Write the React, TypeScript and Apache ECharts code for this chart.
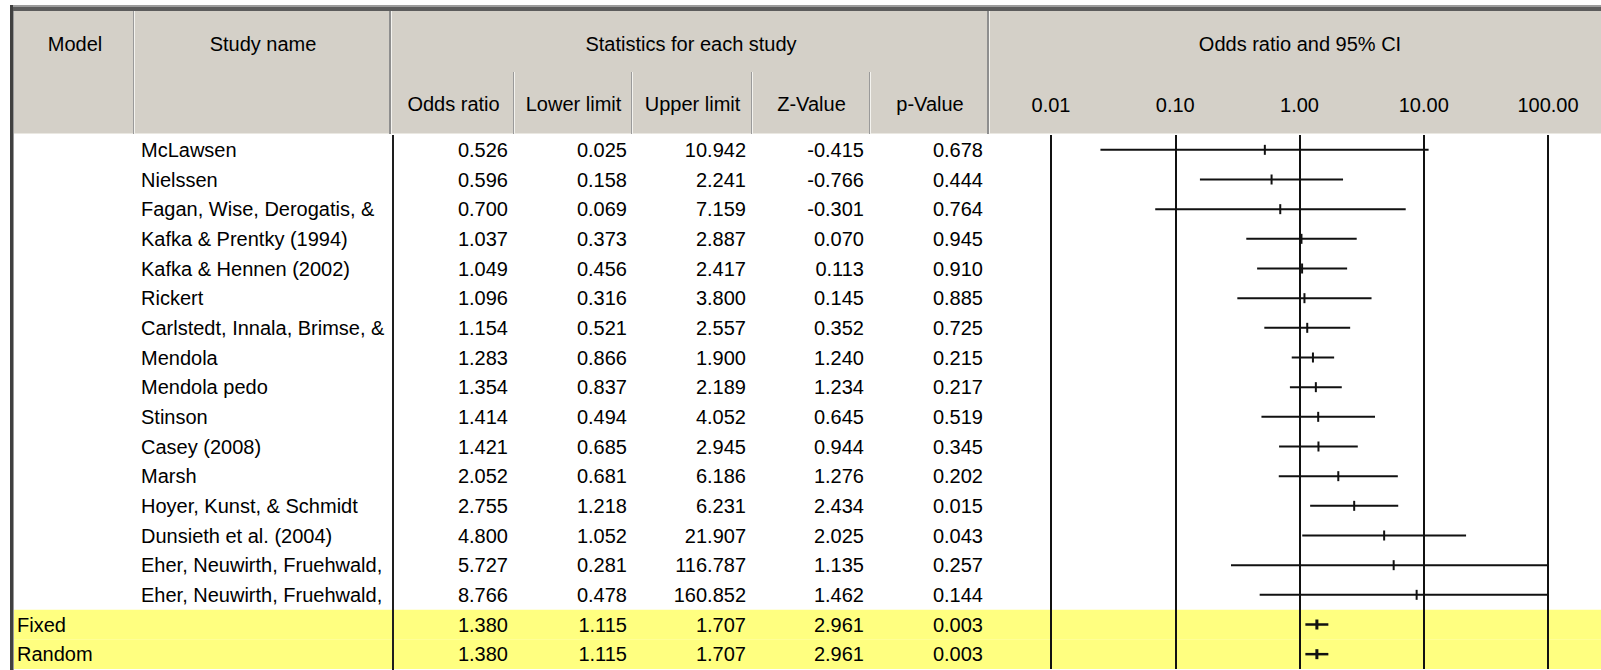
import React, { useEffect, useRef } from "react";
import * as echarts from "echarts";

// ---------------- DATA ----------------
const studyNames = [
  "McLawsen",
  "Nielssen",
  "Fagan, Wise, Derogatis, &",
  "Kafka & Prentky (1994)",
  "Kafka & Hennen (2002)",
  "Rickert",
  "Carlstedt, Innala, Brimse, &",
  "Mendola",
  "Mendola pedo",
  "Stinson",
  "Casey (2008)",
  "Marsh",
  "Hoyer, Kunst, & Schmidt",
  "Dunsieth et al. (2004)",
  "Eher, Neuwirth, Fruehwald,",
  "Eher, Neuwirth, Fruehwald,",
];
const oddsRatio = [0.526, 0.596, 0.7, 1.037, 1.049, 1.096, 1.154, 1.283, 1.354, 1.414, 1.421, 2.052, 2.755, 4.8, 5.727, 8.766];
const lowerLimit = [0.025, 0.158, 0.069, 0.373, 0.456, 0.316, 0.521, 0.866, 0.837, 0.494, 0.685, 0.681, 1.218, 1.052, 0.281, 0.478];
const upperLimit = [10.942, 2.241, 7.159, 2.887, 2.417, 3.8, 2.557, 1.9, 2.189, 4.052, 2.945, 6.186, 6.231, 21.907, 116.787, 160.852];
const zValue = [-0.415, -0.766, -0.301, 0.07, 0.113, 0.145, 0.352, 1.24, 1.234, 0.645, 0.944, 1.276, 2.434, 2.025, 1.135, 1.462];
const pValue = [0.678, 0.444, 0.764, 0.945, 0.91, 0.885, 0.725, 0.215, 0.217, 0.519, 0.345, 0.202, 0.015, 0.043, 0.257, 0.144];

const summaryModels = ["Fixed", "Random"];
const summaryOddsRatio = [1.38, 1.38];
const summaryLower = [1.115, 1.115];
const summaryUpper = [1.707, 1.707];
const summaryZ = [2.961, 2.961];
const summaryP = [0.003, 0.003];

const headerTitles = ["Model", "Study name", "Statistics for each study", "Odds ratio and 95% CI"];
const statColumns = ["Odds ratio", "Lower limit", "Upper limit", "Z-Value", "p-Value"];
const axisMin = 0.01;
const axisMax = 100;

// ---------------- LAYOUT ----------------
const W = 1601;
const H = 670;
const bodyTop = 135;
const bodyHeight = 534;
const plotLeft = 1051;
const plotWidth = 497;
const modelX = 17;
const nameX = 141;
const numRight = [508, 627, 746, 864, 983];
const statDividers = [513, 631, 751, 869];
const FONT = '"Liberation Sans", Arial, sans-serif';
const FS = 20;

type Row = {
  model: string;
  name: string;
  vals: number[];
  or: number;
  lo: number;
  hi: number;
  summary: boolean;
};

const rows: Row[] = [
  ...studyNames.map((n, i) => ({
    model: "",
    name: n,
    vals: [oddsRatio[i], lowerLimit[i], upperLimit[i], zValue[i], pValue[i]],
    or: oddsRatio[i],
    lo: lowerLimit[i],
    hi: upperLimit[i],
    summary: false,
  })),
  ...summaryModels.map((m, i) => ({
    model: m,
    name: "",
    vals: [summaryOddsRatio[i], summaryLower[i], summaryUpper[i], summaryZ[i], summaryP[i]],
    or: summaryOddsRatio[i],
    lo: summaryLower[i],
    hi: summaryUpper[i],
    summary: true,
  })),
];
const rowCats = rows.map((_, i) => String(i));

function txt(text: string, x: number, y: number, align: string) {
  return {
    type: "text",
    x,
    y,
    z: 20,
    style: {
      text,
      fill: "#000",
      font: `${FS}px ${FONT}`,
      fontSize: FS,
      fontFamily: FONT,
      align,
      verticalAlign: "middle",
      textAlign: align,
      textVerticalAlign: "middle",
    },
  };
}

function rect(x: number, y: number, w: number, h: number, fill: string, z = 5) {
  return { type: "rect", z, shape: { x, y, width: w, height: h }, style: { fill } };
}

function buildGraphic() {
  const els: any[] = [];
  // header background
  els.push(rect(14, 11, W - 14, 123, "#D4D0C8", -10));
  els.push(rect(14, 133, W - 14, 1, "#EAE8E2", -9));
  // top border
  els.push(rect(10, 5, W - 10, 2, "#9C9C9C", 6));
  els.push(rect(10, 7, W - 10, 4, "#5C5C5C", 6));
  // left border
  els.push(rect(10, 5, 3, H - 5, "#404040", 6));
  els.push(rect(13, 11, 1, H - 11, "#9A9A9A", 6));
  // header full-height dividers
  els.push(rect(133, 11, 1, 123, "#9A9A9A", 6));
  els.push(rect(134, 11, 1, 123, "#F4F3EF", 6));
  els.push(rect(389, 11, 2, 123, "#8E8E8E", 6));
  els.push(rect(391, 11, 1, 123, "#F4F3EF", 6));
  els.push(rect(987, 11, 2, 123, "#8E8E8E", 6));
  els.push(rect(989, 11, 1, 123, "#F4F3EF", 6));
  // sub-header dividers
  statDividers.forEach((x) => {
    els.push(rect(x, 72, 1, 62, "#9A9A9A", 6));
    els.push(rect(x + 1, 72, 1, 62, "#F4F3EF", 6));
  });
  // body divider between names and statistics
  els.push(rect(392, bodyTop, 2, H - bodyTop, "#1E1E1E", 8));
  // header texts
  els.push(txt(headerTitles[0], 75, 44, "center"));
  els.push(txt(headerTitles[1], 263, 44, "center"));
  els.push(txt(headerTitles[2], 691, 44, "center"));
  els.push(txt(headerTitles[3], 1300, 44, "center"));
  const colLeft = [392, ...statDividers.map((d) => d + 1)];
  const colRight = [...statDividers, 988];
  statColumns.forEach((c, i) => {
    els.push(txt(c, (colLeft[i] + colRight[i]) / 2 + 1, 104, "center"));
  });
  return els;
}

export default function App() {
  const ref = useRef<HTMLDivElement>(null);
  useEffect(() => {
    document.body.style.margin = "0";
    const chart = echarts.init(ref.current!, null, { renderer: "svg" });
    const option: any = {
      animation: false,
      backgroundColor: "#ffffff",
      grid: [
        {
          left: plotLeft,
          top: bodyTop,
          width: plotWidth,
          height: bodyHeight,
          containLabel: false,
          outerBoundsMode: "none",
        },
        {
          left: 0,
          top: bodyTop,
          width: W,
          height: bodyHeight,
          containLabel: false,
          outerBoundsMode: "none",
        },
      ],
      xAxis: [
        {
          type: "log",
          gridIndex: 0,
          logBase: 10,
          min: axisMin,
          max: axisMax,
          position: "top",
          axisLine: { show: false },
          axisTick: { show: false },
          axisLabel: {
            show: true,
            margin: 20,
            color: "#000",
            fontSize: FS,
            fontFamily: FONT,
            showMinLabel: true,
            showMaxLabel: true,
            formatter: (v: number) => Number(v).toFixed(2),
          },
          splitLine: { show: true, lineStyle: { color: "#111", width: 2 } },
        },
        {
          type: "value",
          gridIndex: 1,
          min: 0,
          max: W,
          show: false,
          splitLine: { show: false },
        },
      ],
      yAxis: [
        { type: "category", gridIndex: 0, data: rowCats, inverse: true, show: false },
        { type: "category", gridIndex: 1, data: rowCats, inverse: true, show: false },
      ],
      graphic: { elements: buildGraphic() },
      series: [
        {
          type: "custom",
          name: "summary band",
          xAxisIndex: 1,
          yAxisIndex: 1,
          z: -1,
          silent: true,
          encode: { x: 0, y: 1 },
          data: rows.map((r, i) => (r.summary ? [0, i] : null)).filter((d) => d),
          renderItem: (params: any, api: any) => {
            const c = api.coord([0, api.value(1)]);
            const band = api.size([0, 1])[1];
            return {
              type: "rect",
              shape: { x: 14, y: c[1] - band / 2, width: W - 14, height: band },
              style: { fill: "#FFFF80" },
            };
          },
        },
        {
          type: "custom",
          name: "table",
          xAxisIndex: 1,
          yAxisIndex: 1,
          z: 10,
          silent: true,
          encode: { x: 0, y: 1 },
          data: rows.map((_, i) => [0, i]),
          renderItem: (params: any, api: any) => {
            const idx = api.value(1);
            const r = rows[idx];
            const y = api.coord([0, idx])[1];
            const children: any[] = [];
            if (r.model) children.push(txt(r.model, modelX, y, "left"));
            if (r.name) children.push(txt(r.name, nameX, y, "left"));
            r.vals.forEach((v, k) => children.push(txt(v.toFixed(3), numRight[k], y, "right")));
            return { type: "group", children };
          },
        },
        {
          type: "custom",
          name: "odds ratio",
          xAxisIndex: 0,
          yAxisIndex: 0,
          z: 10,
          silent: true,
          encode: { x: [0, 1, 2], y: 3 },
          data: rows.map((r, i) => [r.lo, r.hi, r.or, i, r.summary ? 1 : 0]),
          renderItem: (params: any, api: any) => {
            const lo = Math.max(api.value(0), axisMin);
            const hi = Math.min(api.value(1), axisMax);
            const or = api.value(2);
            const row = api.value(3);
            const summary = api.value(4) === 1;
            const p1 = api.coord([lo, row]);
            const p2 = api.coord([hi, row]);
            const pc = api.coord([or, row]);
            const half = 5;
            return {
              type: "group",
              children: [
                {
                  type: "line",
                  shape: { x1: p1[0], y1: p1[1], x2: p2[0], y2: p2[1] },
                  style: { stroke: "#111", lineWidth: summary ? 2.5 : 2 },
                },
                {
                  type: "line",
                  shape: { x1: pc[0], y1: pc[1] - half, x2: pc[0], y2: pc[1] + half },
                  style: { stroke: "#111", lineWidth: summary ? 3 : 2 },
                },
              ],
            };
          },
        },
      ],
    };
    chart.setOption(option);
    return () => chart.dispose();
  }, []);
  return <div ref={ref} style={{ width: W, height: H }} />;
}
